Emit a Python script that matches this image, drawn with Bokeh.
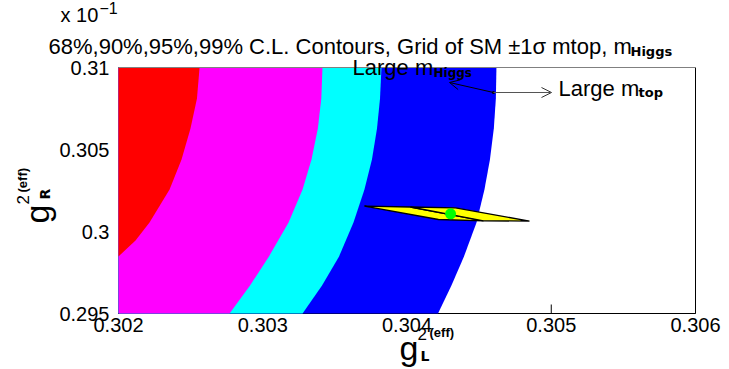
import math
from bokeh.plotting import figure
from bokeh.models import Label, Arrow, OpenHead, FixedTicker, Range1d
from bokeh.embed import file_html
from bokeh.resources import INLINE

# ---------------- data ----------------
x_ticks = [0.302, 0.303, 0.304, 0.305, 0.306]
x_tick_labels = ["0.302", "0.303", "0.304", "0.305", "0.306"]
y_ticks = [0.295, 0.300, 0.305, 0.310]
y_tick_labels = ["0.295", "0.3", "0.305", "0.31"]

# contour boundaries: g_R^2 levels and the g_L^2 value of each C.L. boundary
cl_y = [0.3100, 0.30811, 0.30628, 0.30439, 0.30256, 0.30055, 0.29848, 0.29671, 0.2950]
cl99_x = [0.304620, 0.304616, 0.304602, 0.304575, 0.304537, 0.304482, 0.304395, 0.304308, 0.304215]
cl95_x = [0.303823, 0.303813, 0.303792, 0.303757, 0.303705, 0.303629, 0.303529, 0.303411, 0.303276]
cl90_x = [0.303414, 0.303406, 0.303382, 0.303338, 0.303276, 0.303179, 0.303043, 0.302912, 0.302770]
cl68_y = [0.3100, 0.30811, 0.30628, 0.30439, 0.30256, 0.30055, 0.29945, 0.29848]
cl68_x = [0.302562, 0.302544, 0.302499, 0.302437, 0.302354, 0.302215, 0.302118, 0.302000]

# SM grid: m_top (-1sigma, central, +1sigma) for high and low m_Higgs
grid_highH_x = [0.303705, 0.304024, 0.304336]
grid_highH_y = [0.301543, 0.301494, 0.301445]
grid_lowH_x = [0.304218, 0.304530, 0.304849]
grid_lowH_y = [0.300732, 0.300652, 0.300634]
sm_x = [0.304302]
sm_y = [0.301079]

XMIN, XMAX = 0.302, 0.306
YMIN, YMAX = 0.295, 0.310

# ---------------- layout ----------------
W, H = 729, 369
FL, FR, FT, FB = 118, 695, 67, 313      # plot box edges in pixels
DXP = (XMAX - XMIN) / (FR - FL)          # data per pixel
DYP = (YMAX - YMIN) / (FB - FT)

def px(xp):   # pixel -> data x
    return XMIN + (xp - FL) * DXP

def py(yp):   # pixel -> data y
    return YMAX - (yp - FT) * DYP

p = figure(width=W, height=H, output_backend="svg", toolbar_location=None,
           x_range=Range1d(px(0), px(W)), y_range=Range1d(py(H), py(0)),
           min_border_left=0, min_border_right=0, min_border_top=0, min_border_bottom=0)
p.title.visible = False
p.grid.visible = False
p.background_fill_color = "white"
p.border_fill_color = "white"
p.outline_line_color = None

FONT = "Liberation Sans"
SUBFONT = "DejaVu Sans"

for ax, ticks, labels, loc, bnd in ((p.xaxis[0], x_ticks, x_tick_labels, YMIN, (XMIN, XMAX)),
                                    (p.yaxis[0], y_ticks, y_tick_labels, XMIN, (YMIN, YMAX))):
    ax.fixed_location = loc
    ax.bounds = bnd
    ax.ticker = FixedTicker(ticks=ticks, minor_ticks=[])
    ax.major_label_overrides = {t: l for t, l in zip(ticks, labels)}
    ax.major_tick_in = 0
    ax.major_tick_out = 0
    ax.minor_tick_in = 0
    ax.minor_tick_out = 0
    ax.axis_line_color = None
    ax.major_label_text_font = FONT
    ax.major_label_text_font_size = "20px"
    ax.major_label_text_color = "black"
p.xaxis.major_label_standoff = 4
p.yaxis.major_label_standoff = 9

# plot box (left/bottom) and tick marks, drawn first so the contours hide them
tl_y = 9 * DYP
tl_x = 9 * DXP
p.segment(x0=[XMIN, XMIN], y0=[YMIN, YMIN], x1=[XMAX, XMIN], y1=[YMIN, YMAX],
          line_color="black", line_width=1)
p.segment(x0=x_ticks, y0=[YMIN] * len(x_ticks), x1=x_ticks, y1=[YMIN + tl_y] * len(x_ticks),
          line_color="black", line_width=1)
p.segment(x0=[XMIN] * len(y_ticks), y0=y_ticks, x1=[XMIN + tl_x] * len(y_ticks), y1=y_ticks,
          line_color="black", line_width=1)

# contour fills (outer first)
def band(xs, ys):
    return [XMIN] + list(xs) + [XMIN], [ys[0]] + list(ys) + [ys[-1]]

for xs, ys, col in ((cl99_x, cl_y, "#0000ff"), (cl95_x, cl_y, "#00ffff"),
                    (cl90_x, cl_y, "#ff00ff"), (cl68_x, cl68_y, "#ff0000")):
    bx, by = band(xs, ys)
    p.patch(bx, by, fill_color=col, line_color=None)

# right border (black) and top border (grey)
p.segment(x0=[XMAX], y0=[YMIN], x1=[XMAX], y1=[YMAX], line_color="black", line_width=1)
p.segment(x0=[XMIN], y0=[YMAX], x1=[XMAX], y1=[YMAX], line_color="#808080", line_width=1)

# SM prediction grid
quads_x = [[grid_highH_x[i], grid_highH_x[i + 1], grid_lowH_x[i + 1], grid_lowH_x[i]] for i in range(2)]
quads_y = [[grid_highH_y[i], grid_highH_y[i + 1], grid_lowH_y[i + 1], grid_lowH_y[i]] for i in range(2)]
p.patches(quads_x, quads_y, fill_color="#ffff00", line_color="black", line_width=1.3)
p.scatter(sm_x, sm_y, size=11, fill_color="#00ff00", line_color=None)

BASE_SHIFT = 7  # compensates the baseline offset of the rendered labels

def lab(xp, yp, text, size, bold=False, angle=0, font=FONT):
    if angle:
        xp -= BASE_SHIFT
    else:
        yp -= BASE_SHIFT
    p.add_layout(Label(x=px(xp), y=py(yp), text=text, text_font=font,
                       text_font_size=f"{size}px", text_align="left",
                       text_baseline="alphabetic", angle=angle,
                       text_font_style="bold" if bold else "normal",
                       text_color="black"))

# title and exponent
lab(60, 21, "x 10", 20)
lab(99, 14, "\u22121", 16)
lab(48, 53, "68%,90%,95%,99% C.L. Contours, Grid of SM \u00b11\u03c3 mtop, m", 22)
lab(630, 58, "Higgs", 13, bold=True, font=SUBFONT)

# annotation arrows
p.scatter([px(493)], [py(92)], size=3, fill_color="black", line_color=None)
p.add_layout(Arrow(end=OpenHead(size=10, line_color="black", line_width=1),
                   x_start=px(493), y_start=py(92), x_end=px(449), y_end=py(82),
                   line_color="black", line_width=1))
p.add_layout(Arrow(end=OpenHead(size=10, line_color="#333333", line_width=1),
                   x_start=px(493), y_start=py(92), x_end=px(551), y_end=py(92),
                   line_color="#555555", line_width=1))
lab(352, 74, "Large m", 22)
lab(433, 79, "Higgs", 12, bold=True, font=SUBFONT)
lab(558, 95, "Large m", 22)
lab(638, 99, "top", 13, bold=True, font=SUBFONT)

# x axis title
lab(399, 354, "g", 34)
lab(417, 340, "2", 17)
lab(429, 339, "(eff)", 13, bold=True)
lab(420, 362, "L", 14, bold=True, font=SUBFONT)

# y axis title (rotated)
rot = math.pi / 2
lab(43, 223, "g", 34, angle=rot)
lab(29, 204, "2", 17, angle=rot)
lab(29, 192, "(eff)", 13, bold=True, angle=rot)
lab(51, 199, "R", 14, bold=True, angle=rot, font=SUBFONT)

open("out.html", "w").write(file_html(p, INLINE))
